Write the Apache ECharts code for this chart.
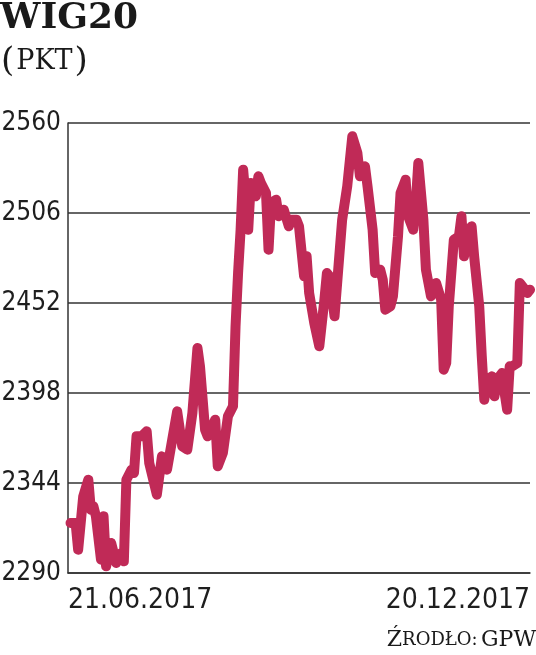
<!DOCTYPE html>
<html>
<head>
<meta charset="utf-8">
<script src="https://cdn.jsdelivr.net/npm/echarts@6/dist/echarts.min.js"></script>
<style>
html,body{margin:0;padding:0;background:#fff;}
#c{width:536px;height:655px;}
</style>
</head>
<body>
<div id="c"></div>
<script>
// Calendar-day offsets from 21.06.2017
const days = [1,3,4,6,8,9,10,11,13,14,15,17,18,19,21,22,23,25,26,27,29,31,32,35,37,39,43,45,47,49,51,52,54,55,58,59,61,63,65,66,67,68,69,71,72,74,75,76,78,79,80,82,83,84,85,87,88,90,91,93,94,95,97,99,101,102,103,105,108,110,112,114,115,117,118,120,121,123,124,125,127,128,130,131,133,134,136,137,138,140,141,143,145,147,148,149,150,152,154,155,156,158,159,160,162,163,164,165,167,168,169,171,172,173,174,175,177,178,179,181,182];
// WIG20 index value (points)
const values = [2320,2320,2304,2336,2346,2328,2330,2324,2298,2324,2294,2308,2302,2296,2302,2297,2346,2352,2350,2372,2372,2375,2356,2337,2360,2352,2387,2366,2364,2386,2425,2414,2376,2372,2382,2354,2362,2384,2390,2438,2470,2496,2532,2496,2524,2516,2528,2524,2518,2484,2512,2514,2504,2506,2508,2498,2502,2502,2498,2468,2480,2458,2440,2426,2454,2470,2468,2444,2502,2522,2552,2542,2528,2534,2522,2496,2470,2472,2466,2448,2450,2456,2492,2518,2526,2504,2496,2512,2536,2502,2472,2456,2464,2454,2412,2416,2450,2490,2492,2504,2480,2496,2498,2480,2450,2420,2394,2406,2408,2396,2406,2410,2398,2388,2414,2414,2416,2464,2462,2458,2460];
const yTicks = [2290,2344,2398,2452,2506,2560];
const xTickLabels = ['21.06.2017','20.12.2017'];
const dayMax = 182;
const base = yTicks[0];
const step = yTicks[1]-yTicks[0];

const chart = echarts.init(document.getElementById('c'), null, {renderer:'canvas'});
const numFont = '"DejaVu Sans Condensed","DejaVu Sans",sans-serif';
const serif = '"DejaVu Serif",serif';
chart.setOption({
  animation:false,
  backgroundColor:'#fff',
  grid:{left:68,right:6,top:123,bottom:82,containLabel:false,outerBoundsMode:'none'},
  xAxis:{
    type:'value',min:0,max:dayMax,interval:dayMax,
    axisLine:{show:true,lineStyle:{color:'#333',width:1.5}},
    axisTick:{show:false},
    splitLine:{show:false},
    axisLabel:{
      margin:14,color:'#1e1e1e',fontSize:28,fontFamily:numFont,
      alignMinLabel:'left',alignMaxLabel:'right',
      formatter:function(v){return v===0?xTickLabels[0]:(v===dayMax?xTickLabels[1]:'');}
    }
  },
  yAxis:{
    type:'value',min:0,max:yTicks[yTicks.length-1]-base,interval:step,
    axisLine:{show:true,lineStyle:{color:'#333',width:1.5}},
    axisTick:{show:false},
    splitLine:{show:true,lineStyle:{color:'#333',width:1.5}},
    axisLabel:{
      margin:7,color:'#1e1e1e',fontSize:26,fontFamily:numFont,
      formatter:function(v){return String(v+base);}
    }
  },
  series:[{
    type:'line',
    data:days.map((d,i)=>[d,values[i]-base]),
    showSymbol:false,
    lineStyle:{color:'#c02a57',width:10,join:'round',cap:'round'},
    z:3
  }],
  graphic:[
    {type:'text',left:0,top:1,style:{text:'WIG20',font:'bold 36px '+serif,fill:'#1a1a1a'}},
    {type:'text',left:1,top:45,style:{text:'{p|(}{s|PKT}{p|)}',fill:'#1a1a1a',
      rich:{p:{fontSize:34,fontFamily:serif,fill:'#1a1a1a'},s:{fontSize:27,fontFamily:serif,fill:'#1a1a1a',padding:[0,2,0,2]}}}},
    {type:'text',right:0,bottom:4,style:{text:'{b|Ź}{s|RODŁO:} {b|GPW}',fill:'#1a1a1a',
      rich:{b:{fontSize:22,fontFamily:serif,fill:'#1a1a1a'},s:{fontSize:18,fontFamily:serif,fill:'#1a1a1a'}}}}
  ]
});
</script>
</body>
</html>
